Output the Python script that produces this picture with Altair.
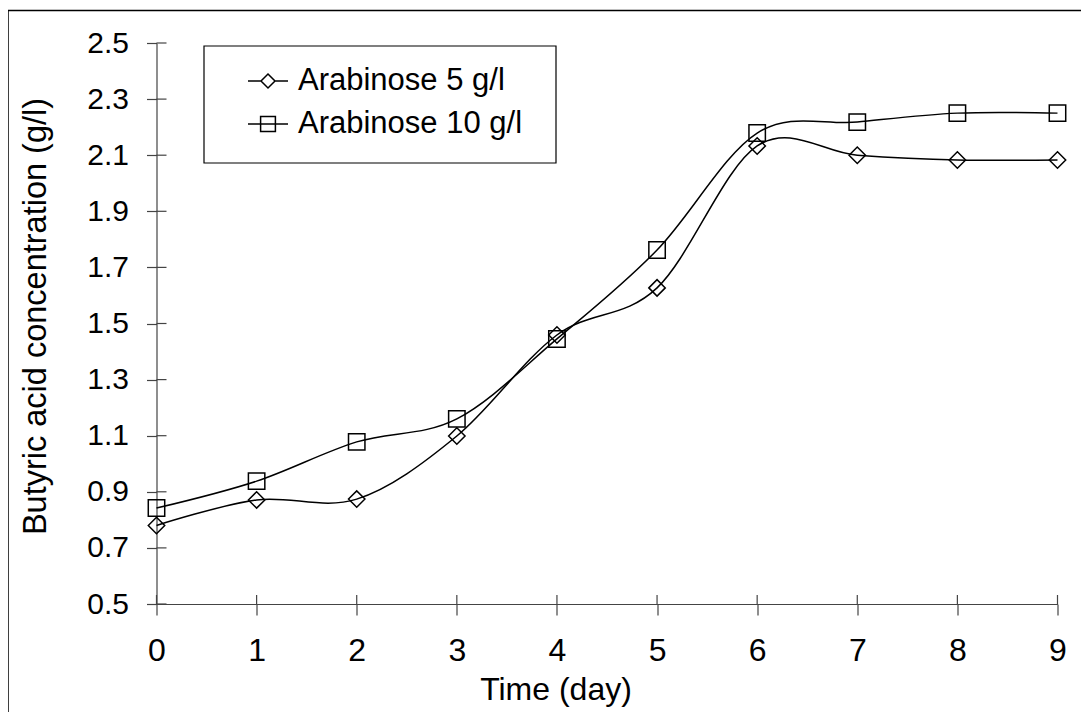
import altair as alt
import pandas as pd

# ---- data ----
days = [0, 1, 2, 3, 4, 5, 6, 7, 8, 9]
series_names = ["Arabinose 5 g/l", "Arabinose 10 g/l"]
ara5 = [0.780, 0.871, 0.874, 1.099, 1.459, 1.627, 2.133, 2.100, 2.083, 2.083]
ara10 = [0.842, 0.938, 1.078, 1.160, 1.445, 1.762, 2.179, 2.218, 2.250, 2.250]
y_ticks = [0.5, 0.7, 0.9, 1.1, 1.3, 1.5, 1.7, 1.9, 2.1, 2.3, 2.5]
x_ticks = days

df = pd.DataFrame({
    "day": days + days,
    "conc": ara5 + ara10,
    "series": [series_names[0]] * len(days) + [series_names[1]] * len(days),
})

W, H = 901, 561
FONT = "Liberation Sans"
AX = "#444444"

x_axis = alt.Axis(values=x_ticks, title="Time (day)", grid=False, domainColor=AX,
                  domainWidth=1.2, tickColor=AX, tickWidth=1.2, tickSize=11,
                  labelFont=FONT, labelFontSize=32, labelColor="black", labelPadding=20,
                  labelFlush=False, titleFont=FONT, titleFontSize=32,
                  titleFontWeight="normal", titleColor="black", titleX=399, titleY=95,
                  titleBaseline="alphabetic")
y_axis = alt.Axis(values=y_ticks, format=".1f", title="Butyric acid concentration (g/l)",
                  grid=False, domainColor=AX, domainWidth=1.2, tickColor=AX, tickWidth=1.2,
                  tickSize=10, labelFont=FONT, labelFontSize=30, labelColor="black",
                  labelPadding=18, labelFlush=False, titleFont=FONT, titleFontSize=32.5,
                  titleFontWeight="normal", titleColor="black", titleX=-121.5, titleY=273,
                  titleBaseline="middle")
x_scale = alt.Scale(domain=[0, 9], nice=False, zero=False)
y_scale = alt.Scale(domain=[0.5, 2.5], nice=False, zero=False)

def X(f):
    return alt.X(f, scale=x_scale, axis=x_axis)

def Y(f):
    return alt.Y(f, scale=y_scale, axis=y_axis)

base = alt.Chart(df)

lines = base.mark_line(interpolate="cardinal", color="black", strokeWidth=1.5).encode(
    x=X("day:Q"), y=Y("conc:Q"), detail="series:N", order="day:Q")

points = base.mark_point(filled=False, color="black", strokeWidth=1.5, size=270, opacity=1).encode(
    x=X("day:Q"), y=Y("conc:Q"),
    shape=alt.Shape("series:N",
                    scale=alt.Scale(domain=series_names,
                                    range=["M-1,0L0,-1L1,0L0,1Z", "M-1,-1L1,-1L1,1L-1,1Z"]),
                    legend=None))

path5 = "M-1,0L-0.35,0M0.35,0L1,0M0,-0.35L0.35,0L0,0.35L-0.35,0Z"
path10 = "M-1,0L1,0M-0.37,-0.37L0.37,-0.37L0.37,0.37L-0.37,0.37Z"
legend_layer = base.mark_point(opacity=0, filled=False, color="black").encode(
    x=X("day:Q"), y=Y("conc:Q"),
    shape=alt.Shape("series:N",
                    scale=alt.Scale(domain=series_names, range=[path5, path10]),
                    legend=alt.Legend(title=None, orient="none", legendX=76.5, legendY=3,
                                      padding=14,
                                      symbolSize=1600, symbolStrokeColor="black",
                                      symbolStrokeWidth=1.5, symbolFillColor="transparent",
                                      symbolOpacity=1, symbolOffset=0, labelOffset=9,
                                      labelFont=FONT, labelFontSize=31, labelColor="black",
                                      labelLimit=0, rowPadding=7)))

# legend frame box (decoration)
legend_box = alt.Chart(pd.DataFrame({"k": [0]})).mark_rect(
    fillOpacity=0, stroke="black", strokeWidth=1.2).encode(
    x=alt.value(47.5), x2=alt.value(399.5), y=alt.value(3), y2=alt.value(120))

y_inner = alt.Chart(pd.DataFrame({"v": y_ticks})).mark_rule(color=AX, strokeWidth=1.2).encode(
    y=Y("v:Q"), x=alt.value(0), x2=alt.value(10))
x_inner = alt.Chart(pd.DataFrame({"v": x_ticks})).mark_rule(color=AX, strokeWidth=1.2).encode(
    x=X("v:Q"), y=alt.value(H - 9), y2=alt.value(H))

frame = alt.Chart(pd.DataFrame({"k": [0]})).mark_rect(
    fillOpacity=0, stroke="black", strokeWidth=1.5).encode(
    x=alt.value(-148.5), x2=alt.value(3000), y=alt.value(-32.5), y2=alt.value(3000))

chart = alt.layer(frame, legend_box, y_inner, x_inner, lines, points, legend_layer).resolve_scale(
    shape="independent"
).properties(
    width=W, height=H,
    autosize=alt.AutoSizeParams(type="none"),
    padding={"left": 148.5, "top": 35, "right": 23.5, "bottom": 108},
    background="white",
).configure_view(stroke=None)

chart.save("out.html", embed_options={"renderer": "svg", "actions": False})
